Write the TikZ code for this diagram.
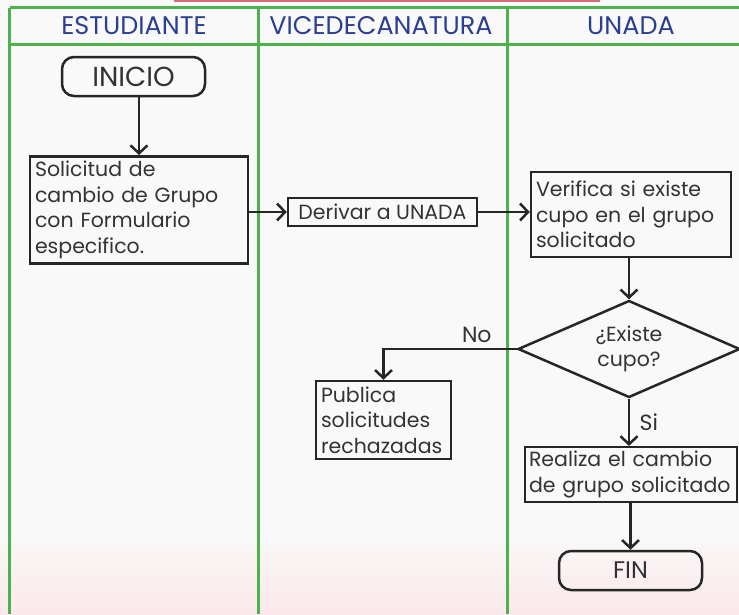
\documentclass[tikz,border=0pt]{standalone}
\usepackage{fontspec}
\setmainfont{Poppins}
\usetikzlibrary{arrows.meta,shapes.geometric}

\definecolor{lanegreen}{RGB}{77,178,77}
\definecolor{headblue}{RGB}{43,63,145}
\definecolor{inkgray}{RGB}{51,51,51}
\definecolor{bgtop}{RGB}{249,249,249}
\definecolor{bgpink}{RGB}{251,232,234}
\definecolor{topred}{RGB}{214,110,120}

\tikzset{
  lane/.style={draw=lanegreen,line width=3pt},
  head/.style={text=headblue,font=\fontsize{25.5}{25.5}\selectfont},
  term/.style={draw=black!85,line width=2.5pt,rounded corners=12pt,text=inkgray,
    minimum width=143pt,minimum height=39pt},
  task/.style={draw=black!85,line width=2.5pt,text=inkgray,align=left,inner sep=5pt,
    font=\fontsize{20.5}{25.5}\selectfont},
  ask/.style={diamond,draw=black!85,line width=2.5pt,text=inkgray,aspect=2.3,inner sep=0pt,
    minimum width=222pt,minimum height=97pt,align=center,font=\fontsize{20.5}{25.5}\selectfont},
  flow/.style={draw=black!85,line width=2.5pt,-{Straight Barb[length=8pt,width=17pt,line width=2.5pt]}},
  tag/.style={text=inkgray,font=\fontsize{22}{22}\selectfont}
}

\begin{document}
\begin{tikzpicture}[x=1pt,y=-1pt]
\useasboundingbox (0,0) rectangle (739,614);
\fill[bgtop] (0,0) rectangle (739,614);
\shade[top color=bgtop,bottom color=bgpink] (0,530) rectangle (739,614);
\fill[topred] (174,0) rectangle (600,1.8);

% lanes
\draw[lane] (9.5,7.5) -- (739,7.5);
\draw[lane] (9.5,44) -- (739,44);
\foreach \x in {9.5,258,507}
  \draw[lane] (\x,7.5) -- (\x,614);
\node[head] (h1) at (134,26) {ESTUDIANTE};
\node[head] (h2) at (381,26) {VICEDECANATURA};
\node[head] (h3) at (631,26) {UNADA};

% steps
\node[term,font=\fontsize{27.5}{27.5}\selectfont] (inicio) at (133.5,76.5) {INICIO};
\node[task,minimum width=218pt,minimum height=104pt,text width=208pt] (sol) at (139,210)
  {Solicitud de\\cambio de Grupo\\con Formulario\\especifico.};
\node[task,minimum width=189pt,minimum height=28pt,inner sep=2pt] (der) at (382.5,212) {Derivar a UNADA};
\node[task,minimum width=200pt,minimum height=85pt,text width=190pt] (ver) at (631,214.5)
  {Verifica si existe\\cupo en el grupo\\solicitado};
\node[ask] (dia) at (629,349) {¿Existe\\cupo?};
\node[task,minimum width=135pt,minimum height=78pt,text width=125pt] (pub) at (383.5,420)
  {Publica\\solicitudes\\rechazadas};
\node[task,minimum width=212pt,minimum height=53pt,text width=204pt,inner sep=4pt] (rea) at (631,474.5)
  {Realiza el cambio\\de grupo solicitado};
\node[term,font=\fontsize{24}{24}\selectfont] (fin) at (630.5,570.5) {FIN};

% arrows
\draw[flow] (sol.north |- inicio.south) -- (sol.north);
\draw[flow] (sol.east |- der.west) -- (der.west);
\draw[flow] (der.east) -- (der.east -| ver.west);
\draw[flow] (ver.south -| dia.north) -- (dia.north);
\draw[flow] (dia.west) -| node[tag,pos=0.15,above=2pt] {No} (pub.north);
\draw[flow] (dia.south) -- node[tag,right=6pt] {Si} (rea.north -| dia.south);
\draw[flow] (rea.south -| fin.north) -- (fin.north);
\end{tikzpicture}
\end{document}
